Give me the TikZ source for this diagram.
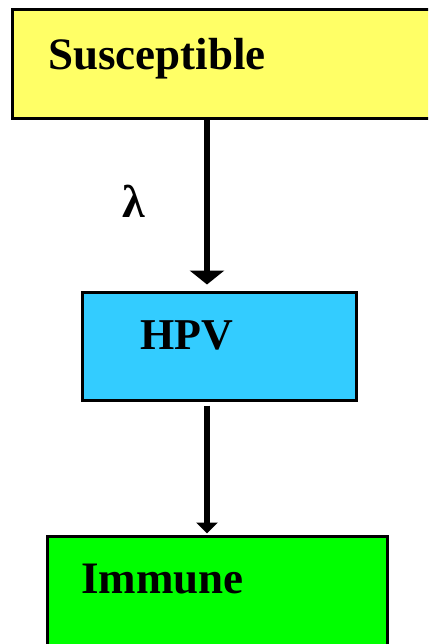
\documentclass[tikz,border=0pt]{standalone}
\usepackage{fontspec}
\setmainfont{Liberation Serif}
\usetikzlibrary{arrows.meta}
\definecolor{susy}{HTML}{FFFF66}
\definecolor{hpvc}{HTML}{33CCFF}
\definecolor{immg}{HTML}{00FF00}
\tikzset{
  box/.style={draw=black, line width=3pt, rectangle, inner sep=0pt},
  lbl/.style={anchor=base west, inner sep=0pt, font=\fontsize{45}{50}\selectfont\bfseries},
  flow/.style={line width=5.5pt, draw=black},
}
\begin{document}
\begin{tikzpicture}[x=1pt,y=-1pt]
\useasboundingbox (0,0) rectangle (428,644);
\begin{scope}
\clip (0,0) rectangle (428,644);
\node[box, fill=susy, minimum width=428pt, minimum height=109pt] (sus) at (226,64.5) {};
\node[box, fill=hpvc, minimum width=274pt, minimum height=108pt] (hpv) at (219,346) {};
\node[box, fill=immg, minimum width=340pt, minimum height=130pt] (imm) at (217,601) {};
\end{scope}
\node[lbl] (sust) at (48,70) {Susceptible};
\node[lbl, font=\fontsize{44}{50}\selectfont\bfseries] (hpvt) at (140,349) {HPV};
\node[lbl] (immt) at (81,593) {Immune};
\coordinate (ax) at (207,0);
\draw[flow, -{Triangle[length=14pt,width=34pt]}] (sus.south -| ax) -- ([yshift=6pt]hpv.north -| ax);
\draw[flow, -{Triangle[length=11pt,width=21pt]}] ([yshift=-4pt]hpv.south -| ax) -- ([yshift=1pt]imm.north -| ax);
\node[anchor=base west, inner sep=0pt, font=\fontsize{46}{50}\selectfont\bfseries] (lam) at (122,218) {λ};
\end{tikzpicture}
\end{document}
